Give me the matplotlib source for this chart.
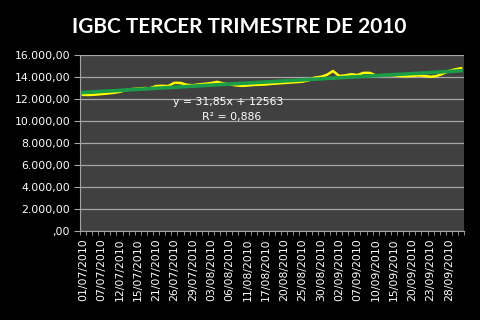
import numpy as np
import matplotlib
matplotlib.use('Agg')
import matplotlib.pyplot as plt
from matplotlib.ticker import FuncFormatter, FixedLocator

# fechas de negociacion (tercer trimestre 2010)
fechas = ['01/07/2010', '02/07/2010', '06/07/2010', '07/07/2010', '08/07/2010', '09/07/2010',
          '12/07/2010', '13/07/2010', '14/07/2010', '15/07/2010', '16/07/2010', '19/07/2010',
          '21/07/2010', '22/07/2010', '23/07/2010', '26/07/2010', '27/07/2010', '28/07/2010',
          '29/07/2010', '30/07/2010', '02/08/2010', '03/08/2010', '04/08/2010', '05/08/2010',
          '06/08/2010', '09/08/2010', '10/08/2010', '11/08/2010', '12/08/2010', '13/08/2010',
          '17/08/2010', '18/08/2010', '19/08/2010', '20/08/2010', '23/08/2010', '24/08/2010',
          '25/08/2010', '26/08/2010', '27/08/2010', '30/08/2010', '31/08/2010', '01/09/2010',
          '02/09/2010', '03/09/2010', '06/09/2010', '07/09/2010', '08/09/2010', '09/09/2010',
          '10/09/2010', '13/09/2010', '14/09/2010', '15/09/2010', '16/09/2010', '17/09/2010',
          '20/09/2010', '21/09/2010', '22/09/2010', '23/09/2010', '24/09/2010', '27/09/2010',
          '28/09/2010', '29/09/2010', '30/09/2010']

igbc = [12380, 12370, 12400, 12450, 12500, 12560, 12650, 12800, 12900, 12950,
        13000, 12980, 13180, 13200, 13180, 13480, 13460, 13300, 13250, 13330,
        13380, 13450, 13560, 13420, 13330, 13250, 13200, 13230, 13280, 13300,
        13330, 13380, 13420, 13460, 13500, 13540, 13580, 13700, 13950, 14020,
        14200, 14550, 14100, 14150, 14250, 14180, 14380, 14380, 14150, 14150,
        14180, 14150, 14100, 14080, 14100, 14150, 14100, 14020, 14100, 14300,
        14550, 14700, 14800]

pendiente = 31.85
intercepto = 12563
ecuacion = 'y = 31,85x + 12563'
r2_texto = 'R² = 0,886'

x = np.arange(len(igbc))
tendencia = pendiente * (x + 1) + intercepto


def formato_es(v, pos):
    if v == 0:
        return ',00'
    s = f'{v:,.2f}'
    return s.replace(',', 'X').replace('.', ',').replace('X', '.')


fig = plt.figure(figsize=(4.81, 3.2), dpi=100, facecolor='black')
ax = fig.add_axes([0.166, 0.278, 0.799, 0.55])
ax.set_facecolor('#404040')

ax.plot(x, igbc, color='#ffff00', lw=1.8, zorder=3)
ax.plot(x, tendencia, color='#1a9c48', lw=2.6, zorder=4)

ax.set_ylim(0, 16000)
ax.set_yticks(np.arange(0, 16001, 2000))
ax.yaxis.set_major_formatter(FuncFormatter(formato_es))
ax.grid(axis='y', color='#a6a6a6', lw=0.9)
ax.set_axisbelow(True)

ax.set_xlim(-0.5, len(igbc) - 0.5)
ax.set_xticks(x[::3])
ax.set_xticklabels(fechas[::3], rotation=90)
ax.xaxis.set_minor_locator(FixedLocator(np.arange(-0.5, len(igbc), 1)))
ax.tick_params(axis='x', which='major', length=0, pad=5, labelsize=7.8, colors='white')
ax.tick_params(axis='x', which='minor', length=3, color='#a6a6a6')
ax.tick_params(axis='y', length=4, color='#a6a6a6', labelsize=7.8, labelcolor='white', pad=3)

for s in ['top', 'right']:
    ax.spines[s].set_visible(False)
ax.spines['left'].set_color('#a6a6a6')
ax.spines['bottom'].set_color('#a6a6a6')

ax.text(0.385, 0.715, ecuacion, transform=ax.transAxes, color='white', fontsize=7.8, ha='center')
ax.text(0.395, 0.63, r2_texto, transform=ax.transAxes, color='white', fontsize=7.8, ha='center')

fig.text(0.497, 0.915, 'IGBC TERCER TRIMESTRE DE 2010', color='white', fontsize=15,
         fontweight='bold', family='Lato', ha='center', va='center')

fig.savefig('out.png', dpi=100, facecolor='black')
